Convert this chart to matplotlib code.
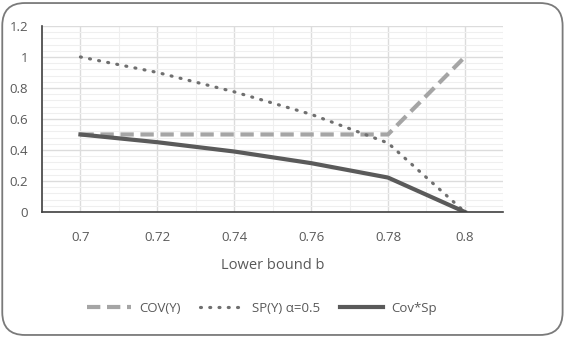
import numpy as np
import matplotlib.pyplot as plt
from matplotlib.patches import FancyBboxPatch
from matplotlib.ticker import MultipleLocator

# 데이터
b = [0.70, 0.72, 0.74, 0.76, 0.78, 0.80]
cov_y = [0.5, 0.5, 0.5, 0.5, 0.5, 1.0]
sp_y = [1.0, 0.90, 0.775, 0.63, 0.445, 0.0]
cov_sp = [0.5, 0.45, 0.39, 0.315, 0.222, 0.0]

xticks = [0.70, 0.72, 0.74, 0.76, 0.78, 0.80]
xticklabels = ["0.7", "0.72", "0.74", "0.76", "0.78", "0.8"]
yticks = [0, 0.2, 0.4, 0.6, 0.8, 1.0, 1.2]
yticklabels = ["0", "0.2", "0.4", "0.6", "0.8", "1", "1.2"]

plt.rcParams['font.family'] = ['Open Sans', 'DejaVu Sans']
txt = '#595959'

fig = plt.figure(figsize=(5.66, 3.37), dpi=100)
ax = fig.add_axes([0.0742, 0.371, 0.815, 0.552])

ax.plot(b, cov_y, color='#a5a5a5', lw=3, dashes=(3.2, 1.6), label='COV(Y)', solid_capstyle='butt')
ax.plot(b, sp_y, color='#6f6f6f', lw=2.3, dashes=(0.3, 2.6), dash_capstyle='round', label='SP(Y) α=0.5')
ax.plot(b, cov_sp, color='#5a5a5a', lw=3, label='Cov*Sp')

ax.set_xlim(0.69, 0.81)
ax.set_ylim(0, 1.2)
ax.set_xticks(xticks)
ax.set_xticklabels(xticklabels)
ax.set_yticks(yticks)
ax.set_yticklabels(yticklabels)
ax.xaxis.set_minor_locator(MultipleLocator(0.01))
ax.yaxis.set_minor_locator(MultipleLocator(0.04))

ax.grid(which='major', color='#dcdcdc', lw=1)
ax.grid(which='minor', color='#efefef', lw=0.8)
ax.set_axisbelow(True)
ax.tick_params(which='both', length=0, colors=txt, labelsize=9.5)
ax.tick_params(axis='x', pad=14)
ax.tick_params(axis='y', pad=10)

for s in ['top', 'right']:
    ax.spines[s].set_visible(False)
for s in ['left', 'bottom']:
    ax.spines[s].set_color('#404040')
    ax.spines[s].set_linewidth(1.2)

ax.set_xlabel('Lower bound b', color=txt, fontsize=10.5, labelpad=10)

leg = ax.legend(loc='upper center', bbox_to_anchor=(0.477, -0.42), ncol=3, frameon=False,
                fontsize=9.5, handlelength=3.3, columnspacing=1.5, handletextpad=0.6)
for t in leg.get_texts():
    t.set_color(txt)

frame = FancyBboxPatch((0.004, 0.006), 0.99, 0.985, boxstyle='round,pad=0,rounding_size=0.04',
                       transform=fig.transFigure, fill=False, ec='#7a7a7a', lw=1.3,
                       mutation_aspect=566/337)
fig.patches.append(frame)

fig.savefig('out.png', dpi=100)
